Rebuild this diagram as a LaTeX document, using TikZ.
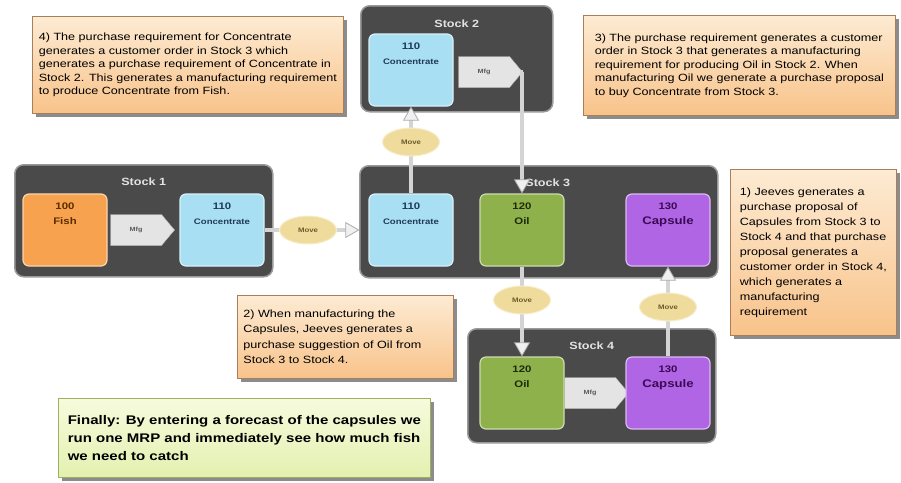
\documentclass[tikz,border=0pt]{standalone}
\usepackage{fontspec}
\setmainfont[FakeStretch=1.2]{Liberation Sans}
\usetikzlibrary{shapes.geometric,shapes.symbols,arrows.meta}
\definecolor{stockgray}{HTML}{4A4A4A}
\definecolor{stockrim}{HTML}{9A9A9A}
\definecolor{stocktext}{HTML}{E2E2E2}
\definecolor{concfill}{HTML}{A8DFF2}
\definecolor{conctext}{HTML}{1F3C5A}
\definecolor{fishfill}{HTML}{F7A24E}
\definecolor{fishtext}{HTML}{5A2D00}
\definecolor{oilfill}{HTML}{8FB14C}
\definecolor{oiltext}{HTML}{1E2A0A}
\definecolor{capfill}{HTML}{B065E5}
\definecolor{captext}{HTML}{3B0A55}
\definecolor{mfgfill}{HTML}{E4E4E4}
\definecolor{movefill}{HTML}{EFDC9C}
\definecolor{movetext}{HTML}{6B5A2A}
\definecolor{linkgray}{HTML}{D4D4D4}
\definecolor{notetop}{HTML}{FDEBD3}
\definecolor{notebottom}{HTML}{F8C38A}
\definecolor{notedraw}{HTML}{A87F5C}
\definecolor{finaltop}{HTML}{F6FBDD}
\definecolor{finalbottom}{HTML}{E4F0B0}
\definecolor{finaldraw}{HTML}{9CB060}
\definecolor{shadowgray}{HTML}{8C8C8C}

\begin{document}
\begin{tikzpicture}[x=1pt, y=-1pt,
	stock/.style={draw=stockrim, line width=1.5pt, fill=stockgray, rounded corners=9pt, anchor=north west},
	stocktitle/.style={anchor=north, yshift=-10pt, text=stocktext, font=\bfseries\fontsize{10.5}{12}\selectfont},
	item/.style={rectangle, rounded corners=6pt, minimum width=84pt, minimum height=72pt, fill=#1, draw=#1!45!white, line width=1.2pt},
	itemtext/.style={anchor=north, yshift=-6pt, align=center, font=\bfseries\fontsize{9.5}{15}\selectfont},
	mfg/.style={signal, signal to=east, signal pointer angle=100, minimum width=64pt, minimum height=31pt, fill=mfgfill, draw=gray!60, text=gray!70!black, font=\bfseries\fontsize{6}{7}\selectfont},
	move/.style={ellipse, minimum width=57pt, minimum height=28pt, fill=movefill, draw=movefill!50!white, line width=1pt, text=movetext, font=\bfseries\fontsize{6.5}{8}\selectfont},
	link/.style={draw=linkgray, line width=4pt, -{Triangle[length=14pt, width=16pt, fill=gray!12, color=gray!65, line width=0.8pt]}},
	note/.style={anchor=north west, draw=notedraw, line width=0.8pt, top color=notetop, bottom color=notebottom, preaction={fill=shadowgray, transform canvas={xshift=4pt, yshift=-4pt}}, align=left, inner sep=0pt, font=\fontsize{10.5}{13.5}\selectfont},
	final/.style={anchor=north west, draw=finaldraw, line width=0.8pt, top color=finaltop, bottom color=finalbottom, preaction={fill=shadowgray, transform canvas={xshift=4pt, yshift=-4pt}}, align=left, inner sep=0pt, font=\bfseries\fontsize{12.5}{18}\selectfont}]
	\useasboundingbox (0,0) rectangle (901,482);
	\node[stock, minimum width=258pt, minimum height=112pt, label={[stocktitle]north:Stock 1}] (s1) at (14,164) {};
	\node[stock, minimum width=192pt, minimum height=106pt, label={[stocktitle, yshift=-1pt]north:Stock 2}] (s2) at (360,5) {};
	\node[stock, minimum width=358pt, minimum height=112pt, label={[stocktitle, xshift=9pt]north:Stock 3}] (s3) at (359,165) {};
	\node[stock, minimum width=248pt, minimum height=114pt, label={[stocktitle]north:Stock 4}] (s4) at (467,328) {};
	\node[item=fishfill, label={[itemtext, text=fishtext]north:100\\Fish}] (fish) at (65,230) {};
	\node[mfg] (mfg1) at (136,230) {Mfg};
	\node[item=concfill, label={[itemtext, text=conctext]north:110\\{\fontsize{8}{9}\selectfont Concentrate}}] (con1) at (222,230) {};
	\node[item=concfill, label={[itemtext, text=conctext]north:110\\{\fontsize{8}{9}\selectfont Concentrate}}] (con2) at (411,70) {};
	\node[mfg] (mfg2) at (484,72) {Mfg};
	\node[item=concfill, label={[itemtext, text=conctext]north:110\\{\fontsize{8}{9}\selectfont Concentrate}}] (con3) at (411,230) {};
	\node[item=oilfill, label={[itemtext, text=oiltext]north:120\\Oil}] (oil3) at (522,230) {};
	\node[item=capfill, label={[itemtext, text=captext]north:130\\{\fontsize{11}{12}\selectfont Capsule}}] (cap3) at (668,230) {};
	\node[item=oilfill, label={[itemtext, text=oiltext]north:120\\Oil}] (oil4) at (522,393) {};
	\node[mfg] (mfg4) at (590,393) {Mfg};
	\node[item=capfill, label={[itemtext, text=captext]north:130\\{\fontsize{11}{12}\selectfont Capsule}}] (cap4) at (668,393) {};
	\draw[link, shorten >=9pt] (con1.east) -- (con3.west);
	\draw[link] (con3.north) -- (con2.south);
	\draw[link] (mfg2.east) -- (mfg2.east -| oil3.north) -- (oil3.north);
	\draw[link] (oil3.south) -- (oil4.north);
	\draw[link] (cap4.north) -- (cap3.south);
	\node[move] (mv1) at (308,230) {Move};
	\node[move] (mv2) at (411,142) {Move};
	\node[move] (mv3) at (522,300) {Move};
	\node[move] (mv4) at (668,307) {Move};
	\node[note, minimum width=311pt, minimum height=97pt] (n4) at (32,16) {4) The purchase requirement for Concentrate\\generates a customer order in Stock 3 which\\generates a purchase requirement of Concentrate in\\Stock 2.  This generates a manufacturing requirement\\to produce Concentrate from Fish.};
	\node[note, minimum width=312pt, minimum height=100pt] (n3) at (583,15) {3) The purchase requirement generates a customer\\order in  Stock 3 that generates a manufacturing\\requirement for producing Oil in  Stock 2.  When\\manufacturing Oil we generate a purchase proposal\\to buy Concentrate from Stock 3.};
	\node[note, minimum width=166pt, minimum height=166pt, font=\fontsize{10.5}{15}\selectfont] (n1) at (730,169) {1) Jeeves generates a\\purchase proposal of\\Capsules from Stock 3 to\\Stock 4 and that purchase\\proposal generates a\\customer order in Stock 4,\\which generates a\\manufacturing\\requirement};
	\node[note, minimum width=216pt, minimum height=83pt, text width=204pt, font=\fontsize{10.5}{15.5}\selectfont] (n2) at (237,295) {2) When manufacturing the\\Capsules, Jeeves generates a\\purchase suggestion of Oil from\\Stock 3 to Stock 4.};
	\node[final, minimum width=372pt, minimum height=79pt] (fin) at (58,398) {Finally:  By entering  a forecast  of the capsules  we\\run one MRP and immediately  see how much fish\\we need to catch};
\end{tikzpicture}
\end{document}
